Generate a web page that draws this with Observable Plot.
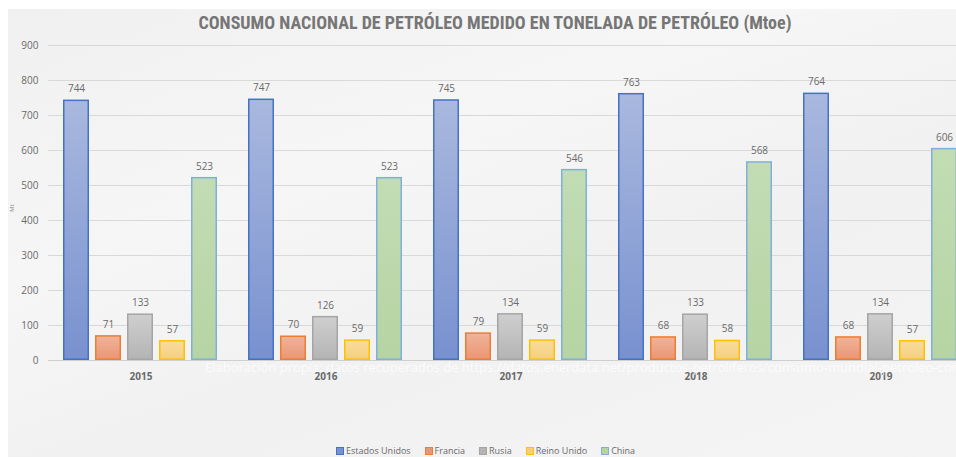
<!DOCTYPE html>
<html>
<head>
<meta charset="utf-8">
<script src="https://cdn.jsdelivr.net/npm/d3@7"></script>
<script src="https://cdn.jsdelivr.net/npm/@observablehq/plot@0.6"></script>
<style>
  html, body { margin: 0; padding: 0; background: #ffffff; overflow: hidden; width: 956px; height: 457px; }
  #panel { position: absolute; left: 8px; top: 9px; width: 948px; height: 448px; overflow: hidden;
    background: linear-gradient(160deg, #f0f0f0 0%, #f6f6f6 35%, #f1f1f1 60%, #f4f4f4 100%); }
  #title { position: absolute; top: 3px; left: 0; width: 974px; text-align: center; font-family: "Liberation Sans Narrow", "Roboto Condensed", Lato, sans-serif; font-weight: bold; font-size: 18px; color: #767676; white-space: nowrap; }
  #chart { position: absolute; left: 0; top: 0; width: 1000px; }
  #chart svg { max-width: none !important; }
  #note { position: absolute; left: 197px; top: 349px; font-family: "Open Sans", sans-serif; font-size: 13px; color: rgba(255,255,255,0.75); white-space: nowrap; }
  #legend { position: absolute; left: 328px; top: 436px; display: flex; gap: 14px; font-family: "Open Sans", sans-serif; font-size: 9px; line-height: 11px; color: #6a6a6a; white-space: nowrap; }
  #legend span.item { display: flex; align-items: center; gap: 2px; }
  #legend span.sw { display: inline-block; width: 6px; height: 6px; border: 1px solid; }
  #ylab { position: absolute; left: 0px; top: 195px; font-family: "Open Sans", sans-serif; font-size: 6px; color: #888; transform: rotate(-90deg); }
</style>
</head>
<body>
<div id="panel">
  <div id="title">CONSUMO NACIONAL DE PETRÓLEO MEDIDO EN TONELADA DE PETRÓLEO (Mtoe)</div>
  <div id="chart"></div>
  <div id="ylab">Mt</div>
  <div id="note">Elaboración propia: datos recuperados de https://datos.enerdata.net/productos-petroliferos/consumo-mundial-petroleo-consumo.html</div>
  <div id="legend"></div>
</div>
<script>
const years = ["2015", "2016", "2017", "2018", "2019"];
const countries = ["Estados Unidos", "Francia", "Rusia", "Reino Unido", "China"];
const estadosUnidos = [744, 747, 745, 763, 764];
const francia = [71, 70, 79, 68, 68];
const rusia = [133, 126, 134, 133, 134];
const reinoUnido = [57, 59, 59, 58, 57];
const china = [523, 523, 546, 568, 606];
const yTicks = [0, 100, 200, 300, 400, 500, 600, 700, 800, 900];

const seriesValues = [estadosUnidos, francia, rusia, reinoUnido, china];
const gradTop = ["#a9b8de", "#f0b39a", "#cfcfcf", "#f8dc9e", "#c2dcb4"];
const gradBottom = ["#7891cf", "#eb9673", "#b4b4b4", "#f5cf7e", "#b6d4a3"];
const borders = ["#4472c4", "#ed7d31", "#a5a5a5", "#ffc000", "#7fb0dc"];
const fillOf = Object.fromEntries(countries.map((c, i) => [c, `url(#grad${i})`]));
const strokeOf = Object.fromEntries(countries.map((c, i) => [c, borders[i]]));

const data = [];
years.forEach((y, yi) => countries.forEach((c, ci) => data.push({year: y, country: c, value: seriesValues[ci][yi]})));

const step = 185.4;
const marginLeft = 39;
const plot = Plot.plot({
  width: marginLeft + step * 5,
  height: 391,
  marginLeft,
  marginRight: 0,
  marginTop: 36,
  marginBottom: 40,
  style: {background: "transparent", fontFamily: "Open Sans, sans-serif", fontSize: "10px", color: "#6a6a6a", maxWidth: "none"},
  fx: {domain: years, padding: 0, label: null},
  x: {domain: countries, paddingInner: 0.182, paddingOuter: 0.4, axis: null},
  y: {domain: [0, 900], ticks: yTicks, label: null},
  color: {type: "identity"},
  marks: [
    Plot.gridY(yTicks, {stroke: "#d9d9d9", strokeOpacity: 1, strokeWidth: 1}),
    Plot.axisY(yTicks, {tickSize: 0, tickPadding: 10, label: null, fill: "#6a6a6a", fontSize: 10}),
    Plot.axisFx({anchor: "bottom", tickSize: 0, tickPadding: 12, label: null, fill: "#6a6a6a", fontSize: 10, fontWeight: "bold"}),
    Plot.ruleY([0], {stroke: "#cfcfcf", strokeWidth: 1.2}),
    Plot.barY(data, {fx: "year", x: "country", y: "value",
      fill: d => fillOf[d.country], stroke: d => strokeOf[d.country], strokeWidth: 1.5, inset: 0.75}),
    Plot.text(data, {fx: "year", x: "country", y: "value", text: d => String(d.value), dy: -11, fill: "#6a6a6a", fontSize: 10})
  ]
});

// gradients
const svgNS = "http://www.w3.org/2000/svg";
const defs = document.createElementNS(svgNS, "defs");
countries.forEach((c, i) => {
  const g = document.createElementNS(svgNS, "linearGradient");
  g.setAttribute("id", `grad${i}`);
  g.setAttribute("x1", "0"); g.setAttribute("y1", "0"); g.setAttribute("x2", "0"); g.setAttribute("y2", "1");
  [[0, gradTop[i]], [1, gradBottom[i]]].forEach(([o, col]) => {
    const s = document.createElementNS(svgNS, "stop");
    s.setAttribute("offset", o); s.setAttribute("stop-color", col);
    g.appendChild(s);
  });
  defs.appendChild(g);
});
plot.insertBefore(defs, plot.firstChild);
document.getElementById("chart").appendChild(plot);

// legend
const legend = document.getElementById("legend");
countries.forEach((c, i) => {
  const item = document.createElement("span");
  item.className = "item";
  const sw = document.createElement("span");
  sw.className = "sw";
  sw.style.background = gradBottom[i];
  sw.style.borderColor = borders[i];
  item.appendChild(sw);
  const t = document.createElement("span");
  t.textContent = c;
  item.appendChild(t);
  legend.appendChild(item);
});
</script>
</body>
</html>
